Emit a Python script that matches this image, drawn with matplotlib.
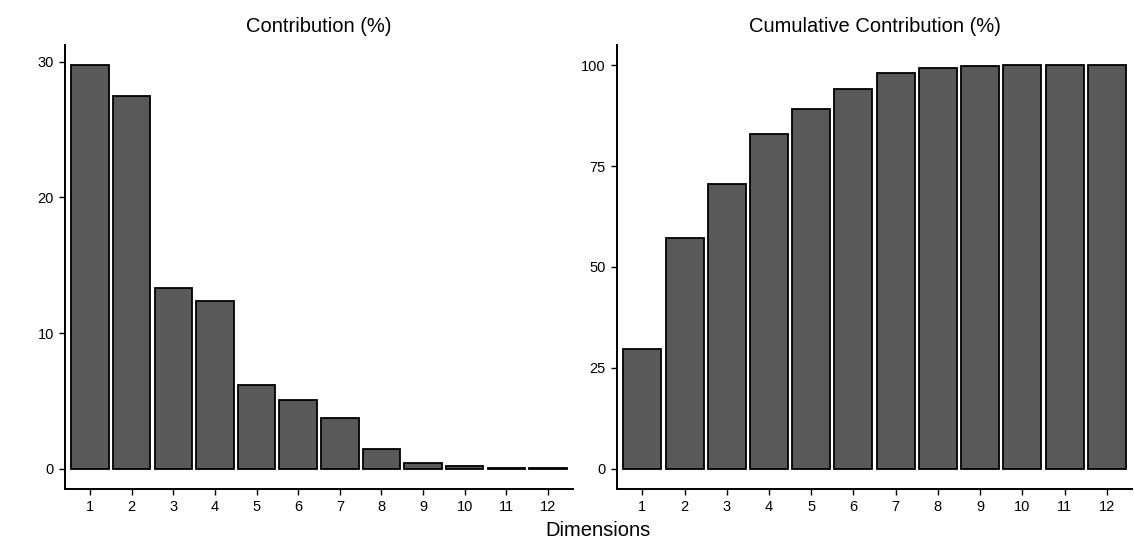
import matplotlib
matplotlib.use('Agg')
import matplotlib.pyplot as plt

# dimensions and their contributions (%)
dims = ['1', '2', '3', '4', '5', '6', '7', '8', '9', '10', '11', '12']
contrib = [29.75, 27.45, 13.35, 12.35, 6.2, 5.1, 3.75, 1.45, 0.45, 0.2, 0.07, 0.03]
cumul = [29.75, 57.2, 70.55, 82.9, 89.1, 94.2, 97.95, 99.4, 99.85, 99.95, 99.98, 100.0]

plt.rcParams['font.family'] = ['Liberation Sans', 'DejaVu Sans']

fig = plt.figure(figsize=(11.34, 5.44), dpi=100)
ax1 = fig.add_axes([0.0573, 0.1011, 0.448, 0.8162])
ax2 = fig.add_axes([0.5441, 0.1011, 0.4542, 0.8162])

def style(ax, vals, ticks, title):
    x = range(1, len(dims) + 1)
    ax.bar(x, vals, width=0.9, color='#595959', edgecolor='black', linewidth=1.3)
    ax.set_xlim(0.4, len(dims) + 0.6)
    top = max(vals)
    ax.set_ylim(-0.05 * top, 1.05 * top)
    ax.set_xticks(list(x))
    ax.set_xticklabels(dims)
    ax.set_yticks(ticks)
    ax.tick_params(labelsize=10.5, length=4, width=1.0, colors='black', pad=4)
    for s in ['top', 'right']:
        ax.spines[s].set_visible(False)
    for s in ['left', 'bottom']:
        ax.spines[s].set_linewidth(1.4)
    ax.set_title(title, fontsize=14.5, pad=9)

style(ax1, contrib, [0, 10, 20, 30], 'Contribution (%)')
style(ax2, cumul, [0, 25, 50, 75, 100], 'Cumulative Contribution (%)')

fig.text(598 / 1134, 1 - 530 / 544, 'Dimensions', fontsize=14.5, ha='center', va='center')

fig.savefig('out.png', dpi=100)
